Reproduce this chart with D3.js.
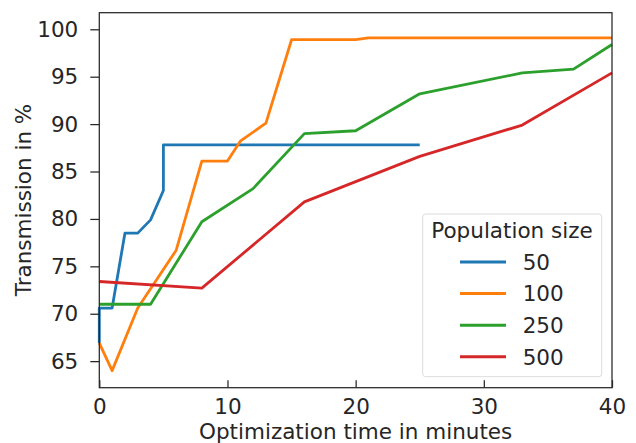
<!DOCTYPE html>
<html>
<head>
<meta charset="utf-8">
<script src="https://cdn.jsdelivr.net/npm/d3@7"></script>
<style>
  body { margin: 0; background: #fff; }
  text { font-family: "DejaVu Sans", sans-serif; fill: #262626; }
</style>
</head>
<body>
<div class="chart"></div>
<script>
// series data
const sizes = ['50', '100', '250', '500'];
const minutes50 = [0, 0, 1, 2, 3, 4, 5, 5, 25];
const trans50 = [66.9, 70.6, 70.6, 78.5, 78.5, 79.9, 83.0, 87.8, 87.8];
const minutes100 = [0, 1, 3, 6, 8, 10, 11, 13, 15, 20, 21, 40];
const trans100 = [66.9, 64.0, 70.6, 76.7, 86.1, 86.1, 88.2, 90.1, 98.9, 98.9, 99.1, 99.1];
const minutes250 = [0, 4, 8, 12, 16, 20, 25, 33, 37, 40];
const trans250 = [71.0, 71.0, 79.7, 83.2, 89.0, 89.3, 93.2, 95.4, 95.8, 98.4];
const minutes500 = [0, 8, 16, 25, 33, 40];
const trans500 = [73.4, 72.7, 81.8, 86.6, 89.9, 95.4];
const xTicks = [0, 10, 20, 30, 40];
const yTicks = [65, 70, 75, 80, 85, 90, 95, 100];

const series = [
    {name: sizes[0], x: minutes50, y: trans50},
    {name: sizes[1], x: minutes100, y: trans100},
    {name: sizes[2], x: minutes250, y: trans250},
    {name: sizes[3], x: minutes500, y: trans500},
];

const W = 636, H = 443;
const margin = {top: 12.7, right: 24, bottom: 55.3, left: 99.3};
const width = W - margin.left - margin.right;
const height = H - margin.top - margin.bottom;
const fontSize = 21.5;

const svg = d3.select('.chart').append('svg')
    .attr('width', W)
    .attr('height', H);
const g = svg.append('g')
    .attr('transform', `translate(${margin.left},${margin.top})`);

//scales
const xScale = d3.scaleLinear().domain([0, 40]).range([0, width]);
const yScale = d3.scaleLinear().domain([62.2, 101.75]).range([height, 0]);
const colorScale = d3.scaleOrdinal()
    .domain(sizes)
    .range(['#1f77b4', '#ff7f0e', '#2ca02c', '#d62728']);

//lines
const line = d3.line()
    .x(d => xScale(d[0]))
    .y(d => yScale(d[1]));

g.selectAll('.series')
    .data(series)
    .enter()
    .append('path')
    .attr('class', 'series')
    .attr('fill', 'none')
    .attr('stroke', d => colorScale(d.name))
    .attr('stroke-width', 2.8)
    .attr('stroke-linejoin', 'round')
    .attr('d', d => line(d.x.map((v, i) => [v, d.y[i]])));

//frame
g.append('rect')
    .attr('width', width)
    .attr('height', height)
    .attr('fill', 'none')
    .attr('stroke', '#262626')
    .attr('stroke-width', 1.25);

//axes
const xAxis = d3.axisBottom(xScale)
    .tickValues(xTicks)
    .tickSize(-7.5)
    .tickPadding(11.5);
const yAxis = d3.axisLeft(yScale)
    .tickValues(yTicks)
    .tickSize(9)
    .tickPadding(12);

const gx = g.append('g')
    .attr('transform', `translate(0,${height})`)
    .call(xAxis);
const gy = g.append('g').call(yAxis);

[gx, gy].forEach(a => {
    a.select('.domain').remove();
    a.selectAll('line').attr('stroke', '#262626').attr('stroke-width', 1.25);
    a.selectAll('text')
        .attr('font-size', fontSize)
        .attr('fill', '#262626')
        .style('font-family', '"DejaVu Sans", sans-serif');
});

//axis labels
svg.append('text')
    .attr('x', margin.left + width / 2)
    .attr('y', 439)
    .attr('text-anchor', 'middle')
    .attr('font-size', fontSize)
    .text('Optimization time in minutes');
svg.append('text')
    .attr('transform', 'translate(31,200) rotate(-90)')
    .attr('text-anchor', 'middle')
    .attr('font-size', fontSize)
    .text('Transmission in %');

//legend
const legend = svg.append('g');
legend.append('rect')
    .attr('x', 422.7)
    .attr('y', 214)
    .attr('width', 179)
    .attr('height', 162.7)
    .attr('rx', 3)
    .attr('fill', '#fff')
    .attr('fill-opacity', 0.8)
    .attr('stroke', '#dcdcdc')
    .attr('stroke-width', 1);
legend.append('text')
    .attr('x', 512)
    .attr('y', 238.3)
    .attr('text-anchor', 'middle')
    .attr('font-size', fontSize)
    .text('Population size');

legend.selectAll('.legend-line')
    .data(sizes)
    .enter()
    .append('line')
    .attr('x1', 460)
    .attr('x2', 506)
    .attr('y1', (d, i) => 262 + i * 31.6)
    .attr('y2', (d, i) => 262 + i * 31.6)
    .attr('stroke', d => colorScale(d))
    .attr('stroke-width', 3);

legend.selectAll('.legend-text')
    .data(sizes)
    .enter()
    .append('text')
    .attr('x', 522.7)
    .attr('y', (d, i) => 269.8 + i * 31.6)
    .attr('font-size', fontSize)
    .text(d => d);
</script>
</body>
</html>
